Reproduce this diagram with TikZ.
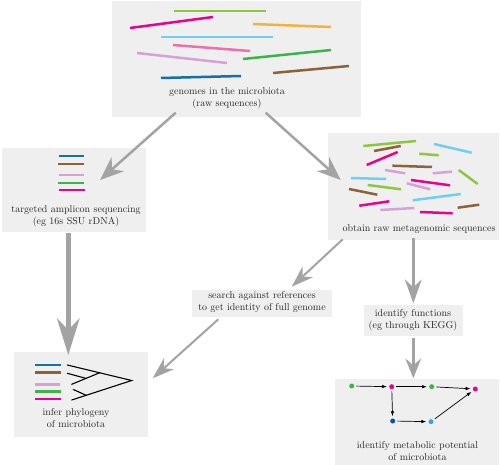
\documentclass[tikz,border=0pt]{standalone}
\usetikzlibrary{arrows.meta}
\definecolor{boxgray}{HTML}{EFEFEF}
\definecolor{arrowgray}{HTML}{A3A3A3}
\definecolor{txtgray}{HTML}{262626}
\definecolor{lime}{HTML}{8DC63F}
\definecolor{magentaA}{HTML}{EC008C}
\definecolor{orangeA}{HTML}{F4B23A}
\definecolor{lightblueA}{HTML}{6DCFF6}
\definecolor{hotpink}{HTML}{F06EAA}
\definecolor{lilac}{HTML}{D9A0D8}
\definecolor{greenA}{HTML}{39B54A}
\definecolor{brownA}{HTML}{8C6239}
\definecolor{darkblueA}{HTML}{1670A6}
\definecolor{navyA}{HTML}{0054A6}
\definecolor{skyA}{HTML}{29ABE2}
\begin{document}
\begin{tikzpicture}[x=1pt,y=-1pt,
  box/.style={fill=boxgray, draw=none, inner sep=0pt, rectangle},
  lbl/.style={align=center, text=txtgray, inner sep=0pt, font=\fontsize{10}{12}\selectfont},
  seq/.style={line width=2.5pt},
  bigarrow/.style={draw=arrowgray},
  dot/.style={circle, inner sep=0pt, minimum size=5pt, draw=none},
  small/.style={draw=black, line width=0.7pt, shorten >=2pt, shorten <=2pt, -{Latex[length=5pt,width=3.5pt]}},
  tree/.style={draw=black, line width=1.1pt, line cap=round}]
\useasboundingbox (0,0) rectangle (500,465);

% boxes
\node[box, minimum width=249pt, minimum height=116pt] (top) at (236.5,59) {};
\node[box, minimum width=144pt, minimum height=84pt] (amp) at (74,190) {};
\node[box, minimum width=171pt, minimum height=107pt] (meta) at (413.5,186.5) {};
\node[box, minimum width=140pt, minimum height=27pt] (search) at (262,303.5) {};
\node[box, minimum width=99pt, minimum height=31pt] (func) at (413.5,320.5) {};
\node[box, minimum width=164pt, minimum height=86pt] (metab) at (417,422) {};
\node[box, minimum width=134pt, minimum height=85pt] (phylo) at (81,394.5) {};

% labels
\node[lbl] (topt) at (227,98.5) {genomes in the microbiota\\(raw sequences)};
\node[lbl] (ampt) at (76,216.5) {targeted amplicon sequencing\\(eg 16s SSU rDNA)};
\node[lbl] (metat) at (419,229.5) {obtain raw metagenomic sequences};
\node[lbl] (searcht) at (262,302.5) {search against references\\to get identity of full genome};
\node[lbl] (funct) at (413,320) {identify functions\\(eg through KEGG)};
\node[lbl] (metabt) at (417.5,451.5) {identify metabolic potential\\of microbiota};
\node[lbl] (phylot) at (76,418) {infer phylogeny\\of microbiota};

% top box sequences
\draw[seq, lime] (174,11) -- (266,11);
\draw[seq, magentaA] (130,28) -- (213,17);
\draw[seq, orangeA] (253,24) -- (331,27);
\draw[seq, lightblueA] (161,37) -- (273,37);
\draw[seq, hotpink] (173,45) -- (250,51);
\draw[seq, lilac] (137,53) -- (227,63);
\draw[seq, greenA] (243,59) -- (331,50);
\draw[seq, brownA] (273,73) -- (349,66);
\draw[seq, darkblueA] (161,78) -- (241,76);

% amplicon sequences
\draw[seq, darkblueA] (58.5,156) -- (84,156);
\draw[seq, brownA] (58,164) -- (84,164);
\draw[seq, lilac] (58.5,175) -- (83.5,175);
\draw[seq, greenA] (58,183) -- (84,183);
\draw[seq, magentaA] (58.5,190) -- (85,190);

% metagenomic fragments
\draw[seq, lime] (363.3,146) -- (416,141);
\draw[seq, brownA] (374,151) -- (400.7,146);
\draw[seq, lightblueA] (434,144) -- (471.7,152.7);
\draw[seq, magentaA] (366.7,165) -- (397.7,152);
\draw[seq, lime] (419.3,153.7) -- (438.7,155.3);
\draw[seq, brownA] (392.3,165.7) -- (432,167);
\draw[seq, lilac] (385,170) -- (405.3,173.3);
\draw[seq, lilac] (432.7,173.3) -- (452,171.7);
\draw[seq, lime] (458.7,170) -- (477.7,184);
\draw[seq, lightblueA] (351,178) -- (386,179);
\draw[seq, magentaA] (411,180) -- (450,185.3);
\draw[seq, lilac] (406.7,183.3) -- (430.3,189.3);
\draw[seq, lime] (367.7,185) -- (401,189.3);
\draw[seq, brownA] (349,189) -- (377.3,194.7);
\draw[seq, lightblueA] (412.7,200.3) -- (460.7,194);
\draw[seq, magentaA] (359.3,205.7) -- (389.3,201.3);
\draw[seq, lilac] (380.3,210) -- (414.3,208);
\draw[seq, magentaA] (420,212) -- (452.7,213.3);
\draw[seq, brownA] (457.7,207.7) -- (479.3,204.7);

% phylogeny sequences
\draw[seq, darkblueA] (35,365) -- (61,365);
\draw[seq, brownA] (35,372.7) -- (61,372.7);
\draw[seq, lilac] (35,384.3) -- (60,384.3);
\draw[seq, greenA] (35,391.7) -- (61,391.7);
\draw[seq, magentaA] (35,399) -- (61,399);

% tree
\coordinate (apex) at (131.7,380.5);
\coordinate (ta) at (67.3,365);
\coordinate (tb) at (71.7,400);
\coordinate (j1) at (100,372.6);
\coordinate (j2) at (86,378.4);
\coordinate (j3) at (86,395.2);
\draw[tree] (ta) -- (apex) -- (tb);
\draw[tree] (71.7,384.3) -- (j1);
\draw[tree] (67.3,373.3) -- (j2);
\draw[tree] (73.3,389.5) -- (j3);

% metabolic network
\node[dot, fill=greenA] (d1) at (351.7,386) {};
\node[dot, fill=magentaA] (d2) at (391.7,386.7) {};
\node[dot, fill=greenA] (d3) at (431.7,386.7) {};
\node[dot, fill=magentaA] (d4) at (475.3,389) {};
\node[dot, fill=navyA] (d5) at (392.7,421) {};
\node[dot, fill=skyA] (d6) at (431,421.7) {};
\draw[small] (d1) -- (d2);
\draw[small] (d2) -- (d3);
\draw[small] (d3) -- (d4);
\draw[small] (d2) -- (d5);
\draw[small] (d5) -- (d6);
\draw[small] (d6) -- (d4);

% big arrows
\coordinate (a1s) at (175.7,112.7);
\coordinate (a1e) at (100,180);
\coordinate (a2s) at (265.7,112.7);
\coordinate (a2e) at (340.7,180);
\coordinate (a3s) at (68.3,233);
\coordinate (a3e) at (68.3,355);
\coordinate (a4s) at (218.3,319.3);
\coordinate (a4e) at (152.7,378.3);
\coordinate (a5s) at (342.7,239.3);
\coordinate (a5e) at (291.7,286.7);
\coordinate (a6s) at (413.3,238);
\coordinate (a6e) at (413.3,303.3);
\coordinate (a7s) at (413.3,338);
\coordinate (a7e) at (413.3,378.3);
\draw[bigarrow, line width=2.5pt, -{Stealth[length=24pt,width=19pt,inset=8pt,line width=0pt]}] (a1s) -- (a1e);
\draw[bigarrow, line width=2.5pt, -{Stealth[length=24pt,width=19pt,inset=8pt,line width=0pt]}] (a2s) -- (a2e);
\draw[bigarrow, line width=4.5pt, -{Stealth[length=37pt,width=23pt,inset=12pt,line width=0pt]}] (a3s) -- (a3e);
\draw[bigarrow, line width=2pt, -{Stealth[length=22pt,width=15pt,inset=7pt,line width=0pt]}] (a4s) -- (a4e);
\draw[bigarrow, line width=2pt, -{Stealth[length=22pt,width=15pt,inset=7pt,line width=0pt]}] (a5s) -- (a5e);
\draw[bigarrow, line width=3.5pt, -{Stealth[length=24pt,width=17pt,inset=8pt,line width=0pt]}] (a6s) -- (a6e);
\draw[bigarrow, line width=3.5pt, -{Stealth[length=20pt,width=16pt,inset=7pt,line width=0pt]}] (a7s) -- (a7e);
\end{tikzpicture}
\end{document}
